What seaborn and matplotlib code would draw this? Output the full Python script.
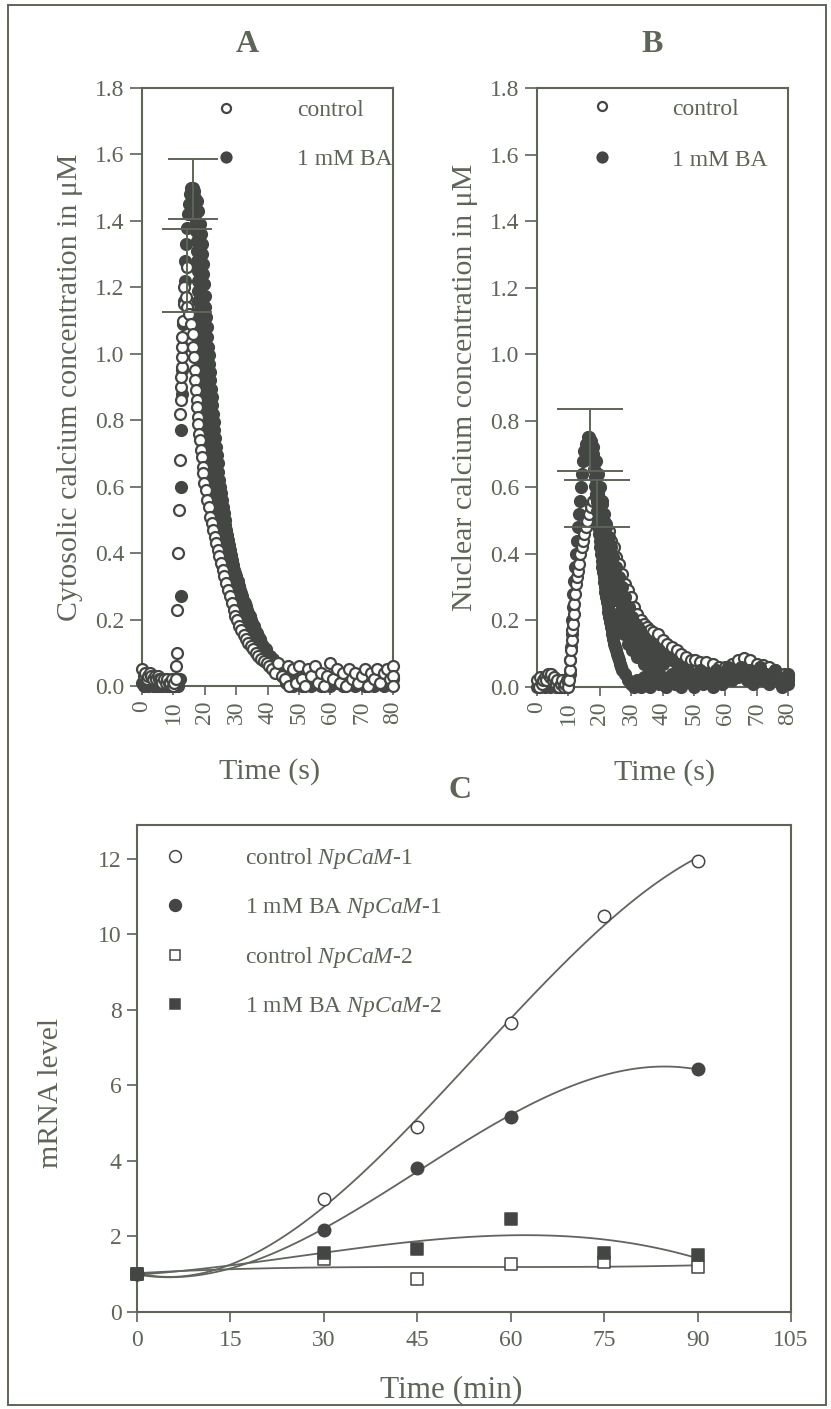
import matplotlib
matplotlib.use("Agg")
import numpy as np
import pandas as pd
import matplotlib.pyplot as plt
import seaborn as sns
from matplotlib.lines import Line2D
from matplotlib.patches import Rectangle

# ---------------------------------------------------------------- data
# Panel A: cytosolic free calcium (uM) against time (s), (time, value) pairs
cyt_control = [
    (0, 0.05), (0.5, 0.03), (1, 0.04), (1.5, 0.02), (2, 0.03), (2.5, 0.04), (3, 0.03),
    (3.5, 0.02), (4, 0.03), (4.5, 0.02), (5, 0.03), (5.5, 0.02), (6, 0.02), (6.5, 0.01),
    (7, 0.02), (7.5, 0.01), (8, 0.02), (8.5, 0.01), (9, 0.01), (9.5, 0.02), (10, 0.0),
    (10.3, 0.01), (10.8, 0.02), (10.9, 0.06), (11.0, 0.10), (11.1, 0.23), (11.4, 0.40),
    (11.7, 0.53), (12.0, 0.68), (12.2, 0.82), (12.3, 0.86), (12.4, 0.90), (12.5, 0.93),
    (12.6, 0.96), (12.7, 0.99), (12.8, 1.02), (12.9, 1.05), (13.1, 1.10), (13.3, 1.15),
    (13.4, 1.20), (14.5, 1.26), (13.9, 1.17), (14.5, 1.14), (14.9, 1.12), (15.5, 1.09),
    (16.1, 1.06), (16.4, 1.02), (16.6, 0.99), (16.8, 0.95), (17.0, 0.92), (17.2, 0.89),
    (17.4, 0.86), (17.6, 0.84), (17.8, 0.81), (18.0, 0.79), (18.2, 0.76), (18.4, 0.74),
    (18.7, 0.71), (19.0, 0.69), (19.3, 0.66), (19.6, 0.64), (19.9, 0.61), (20.3, 0.59),
    (20.7, 0.56), (21.2, 0.54), (21.7, 0.51), (22.2, 0.49), (22.7, 0.47), (23.2, 0.45),
    (23.7, 0.43), (24.2, 0.41), (24.7, 0.39), (25.2, 0.37), (25.7, 0.35), (26.2, 0.33),
    (26.8, 0.31), (27.4, 0.29), (28.0, 0.27), (28.6, 0.25), (29.2, 0.23), (29.8, 0.21),
    (30.4, 0.20), (31.0, 0.18), (31.7, 0.17), (32.4, 0.155), (33.1, 0.14), (33.8, 0.13),
    (34.6, 0.12), (35.4, 0.11), (36.2, 0.10), (37.0, 0.09), (37.9, 0.08), (38.8, 0.075),
    (39.7, 0.07), (40.6, 0.06), (41.5, 0.05), (42.5, 0.04), (43.5, 0.07), (44.5, 0.03),
    (45.5, 0.02), (46.5, 0.06), (47, 0.0), (48, 0.05), (49, 0.01), (50, 0.06), (51, 0.02),
    (52, 0.0), (53, 0.05), (54, 0.03), (55, 0.06), (56, 0.01), (57, 0.04), (58, 0.0),
    (59, 0.03), (60, 0.07), (61, 0.02), (62, 0.05), (63, 0.01), (64, 0.04), (65, 0.0),
    (66, 0.05), (67, 0.02), (68, 0.04), (69, 0.01), (70, 0.03), (71, 0.05), (72, 0.0),
    (73, 0.04), (74, 0.02), (75, 0.05), (76, 0.01), (77, 0.04), (78, 0.05), (79, 0.02),
    (80, 0.06), (80, 0.03), (80, 0.0),
]
cyt_ba = [
    (0, 0.01), (0.5, 0.0), (1, 0.02), (1.5, 0.01), (2, 0.0), (2.5, 0.01), (3, 0.02),
    (3.5, 0.0), (4, 0.01), (4.5, 0.0), (5, 0.01), (5.5, 0.0), (6, 0.02), (6.5, 0.0),
    (7, 0.01), (7.5, 0.0), (8, 0.01), (8.5, 0.0), (9, 0.01), (9.5, 0.0), (10, 0.01),
    (10.5, 0.0), (11, 0.01), (11.5, 0.0), (12, 0.02), (12.3, 0.27), (12.35, 0.60),
    (12.4, 0.77), (12.6, 0.88), (12.8, 0.95), (13.0, 1.02), (13.2, 1.09), (13.4, 1.16),
    (13.6, 1.22), (13.8, 1.28), (14.0, 1.33), (14.3, 1.38), (14.6, 1.42), (14.9, 1.45),
    (15.3, 1.48), (15.7, 1.50), (16.1, 1.50), (16.5, 1.49), (16.9, 1.47),
    (17.2, 1.40), (17.4, 1.34), (17.6, 1.28), (17.8, 1.22), (18.0, 1.16), (18.2, 1.10),
    (18.4, 1.04), (18.7, 0.98), (19.0, 0.92), (19.3, 0.86), (19.6, 0.81), (20.0, 0.76),
    (20.4, 0.71), (20.8, 0.66), (21.3, 0.62), (21.8, 0.58), (22.3, 0.54), (22.9, 0.50),
    (23.5, 0.47), (24.1, 0.44), (24.7, 0.41), (25.3, 0.38), (26.0, 0.35), (26.7, 0.32),
    (27.4, 0.30), (28.1, 0.28), (28.8, 0.26), (29.5, 0.24), (30.3, 0.22), (31.1, 0.20),
    (32.0, 0.18), (33.0, 0.16), (34.0, 0.14), (35.0, 0.12), (36.2, 0.11), (37.4, 0.09),
    (38.6, 0.08), (40.0, 0.07), (41.4, 0.06), (43.0, 0.04), (44.5, 0.03),
    (17.05, 1.435), (17.3, 1.37), (17.5, 1.31), (17.7, 1.25), (17.9, 1.19), (18.1, 1.13),
    (18.3, 1.07), (18.55, 1.01), (18.85, 0.95), (19.15, 0.89), (19.45, 0.835),
    (19.8, 0.785), (20.2, 0.735), (20.6, 0.685), (21.05, 0.64), (21.55, 0.60),
    (22.05, 0.56), (22.6, 0.52), (23.2, 0.485), (23.8, 0.455), (24.4, 0.425),
    (25.0, 0.395), (25.65, 0.365), (26.35, 0.335), (27.05, 0.31), (27.75, 0.29),
    (28.45, 0.27), (29.15, 0.25), (29.9, 0.23), (30.7, 0.21), (31.55, 0.19), (32.5, 0.17),
    (33.5, 0.15), (34.5, 0.13),
    (17.5, 1.46), (18.0, 1.43), (18.5, 1.39), (19.0, 1.33), (19.4, 1.27), (19.8, 1.21),
    (20.2, 1.14), (20.6, 1.08), (21.0, 1.02), (21.4, 0.97), (21.8, 0.92), (22.2, 0.87),
    (22.6, 0.82), (23.1, 0.77), (23.6, 0.72), (24.1, 0.67), (24.6, 0.62), (25.1, 0.58),
    (25.7, 0.54), (26.3, 0.50), (26.9, 0.47), (27.5, 0.44), (28.1, 0.41), (28.7, 0.38),
    (29.4, 0.35), (30.1, 0.33), (30.8, 0.30), (31.5, 0.28), (32.3, 0.26), (33.1, 0.24),
    (33.9, 0.22), (34.7, 0.20), (35.6, 0.18), (36.5, 0.16), (37.5, 0.14), (38.5, 0.12),
    (39.6, 0.11), (40.7, 0.09), (41.9, 0.08), (43.1, 0.07), (44.4, 0.05), (45.7, 0.04),
    (18.75, 1.36), (19.2, 1.30), (19.6, 1.24), (20.0, 1.175), (20.4, 1.11), (20.8, 1.05),
    (21.2, 0.995), (21.6, 0.945), (22.0, 0.895), (22.4, 0.845), (22.85, 0.795),
    (23.35, 0.745), (23.85, 0.695), (24.35, 0.645), (24.85, 0.60), (25.4, 0.56),
    (26.0, 0.52), (26.6, 0.485), (27.2, 0.455), (27.8, 0.425), (28.4, 0.395),
    (29.05, 0.365), (29.75, 0.34), (30.45, 0.315), (31.15, 0.29), (31.9, 0.27),
    (32.7, 0.25), (33.5, 0.23), (34.3, 0.21), (35.15, 0.19), (36.05, 0.17), (37.0, 0.15),
    (38.0, 0.13),
    (47, 0.03), (48.5, 0.02), (46, 0.01), (48, 0.0), (49, 0.01), (50, 0.03), (51, 0.0),
    (52, 0.02), (53, 0.01), (54, 0.0), (55, 0.03), (56, 0.02), (57, 0.0), (58, 0.01),
    (59, 0.03), (60, 0.0), (61, 0.02), (62, 0.01), (63, 0.03), (64, 0.0), (65, 0.02),
    (66, 0.01), (67, 0.03), (68, 0.0), (69, 0.02), (70, 0.01), (71, 0.0), (72, 0.03),
    (73, 0.01), (74, 0.0), (75, 0.02), (76, 0.03), (77, 0.0), (78, 0.02), (79, 0.01),
    (80, 0.02),
]
# peak mean and SD drawn as error bars (time, mean, sd)
cyt_peaks_t = [14.3, 16.2]
cyt_peaks_mean = [1.25, 1.495]
cyt_peaks_sd = [0.125, 0.09]

# Panel B: nuclear free calcium (uM) against time (s)
nuc_control = [
    (0, 0.02), (0.5, 0.0), (1, 0.03), (1.5, 0.01), (2, 0.02), (2.5, 0.03), (3, 0.02),
    (3.5, 0.04), (4, 0.03), (4.5, 0.04), (5, 0.02), (5.5, 0.03), (6, 0.01), (6.5, 0.02),
    (7, 0.0), (7.5, 0.01), (8, 0.02), (8.5, 0.0), (9, 0.01), (9.5, 0.02), (10, 0.0),
    (10.2, 0.02), (10.4, 0.05), (10.6, 0.08), (10.8, 0.11), (11.0, 0.14), (11.2, 0.17),
    (11.4, 0.19), (11.7, 0.22), (11.9, 0.25), (12.2, 0.28), (12.5, 0.31), (12.8, 0.33),
    (13.1, 0.35), (13.4, 0.37), (13.8, 0.40), (14.2, 0.42), (14.6, 0.44), (15.0, 0.46),
    (15.5, 0.48), (16.0, 0.50), (16.6, 0.52), (17.3, 0.54), (18.0, 0.56), (18.8, 0.57),
    (19.5, 0.56), (20.2, 0.54), (21.0, 0.52), (22.0, 0.49), (22.9, 0.47), (23.7, 0.44),
    (24.5, 0.42), (25.3, 0.39), (26.1, 0.37), (27.0, 0.34), (28.0, 0.31), (29.0, 0.29),
    (30.0, 0.27), (31.0, 0.24), (32.0, 0.22), (33.0, 0.20), (34.0, 0.19), (35.0, 0.18),
    (36.0, 0.17), (37.0, 0.165), (38.5, 0.16), (40.0, 0.14), (41.5, 0.13), (43.0, 0.12),
    (44.5, 0.11), (46.0, 0.10), (47.5, 0.09), (49.0, 0.08), (50.5, 0.08), (52.0, 0.075),
    (54.0, 0.075), (56.0, 0.07), (58.0, 0.06), (60.0, 0.06), (62.0, 0.07), (64.0, 0.08),
    (66.0, 0.087), (68.0, 0.08), (70.0, 0.07), (72.0, 0.066), (74.0, 0.06), (76.0, 0.05),
    (78.6, 0.04), (80.0, 0.03), (80.0, 0.02),
]
nuc_ba = [
    (0, 0.0), (0.5, 0.01), (1, 0.0), (1.5, 0.02), (2, 0.01), (2.5, 0.0), (3, 0.01),
    (3.5, 0.02), (4, 0.0), (4.5, 0.01), (5, 0.03), (5.5, 0.01), (6, 0.0), (6.5, 0.01),
    (7, 0.02), (7.5, 0.0), (8, 0.01), (8.5, 0.0), (9, 0.01), (9.5, 0.0), (10, 0.01),
    (10.4, 0.04), (10.6, 0.08), (10.8, 0.12), (11.0, 0.16), (11.2, 0.20), (11.4, 0.24),
    (11.6, 0.28), (11.9, 0.32), (12.2, 0.36), (12.5, 0.40), (12.8, 0.44), (13.1, 0.48),
    (13.4, 0.52), (13.7, 0.56), (14.0, 0.60), (14.3, 0.64), (14.7, 0.68), (15.1, 0.71),
    (15.6, 0.73), (16.1, 0.75), (16.6, 0.75), (17.1, 0.74),
    (17.5, 0.72), (18.0, 0.68), (18.4, 0.63), (18.8, 0.58), (19.2, 0.53), (19.6, 0.48),
    (20.0, 0.44), (20.4, 0.40), (20.8, 0.36), (21.2, 0.33), (21.6, 0.30), (22.0, 0.27),
    (22.5, 0.24), (23.0, 0.21), (23.5, 0.18), (24.0, 0.16), (24.6, 0.13), (25.2, 0.11),
    (25.8, 0.09), (26.5, 0.07), (27.2, 0.05), (28.0, 0.04), (29.0, 0.02), (30.0, 0.01),
    (17.75, 0.70), (18.2, 0.655), (18.6, 0.605), (19.0, 0.555), (19.4, 0.505),
    (19.8, 0.46), (20.2, 0.42), (20.6, 0.38), (21.0, 0.345), (21.4, 0.315), (21.8, 0.285),
    (22.25, 0.255), (22.75, 0.225), (23.25, 0.195), (23.75, 0.17), (24.3, 0.145),
    (24.9, 0.12), (25.5, 0.10), (26.15, 0.08), (26.85, 0.06),
    (18.9, 0.64), (19.6, 0.58), (20.3, 0.52), (21.0, 0.46), (21.8, 0.40), (22.6, 0.35),
    (23.5, 0.30), (24.4, 0.26), (25.5, 0.22), (26.5, 0.19), (27.7, 0.16), (29.0, 0.13),
    (30.4, 0.11), (32.0, 0.09), (34.0, 0.07), (36.0, 0.06), (38.0, 0.05),
    (20.0, 0.60), (20.7, 0.55), (21.4, 0.50), (22.1, 0.45), (22.9, 0.40), (23.8, 0.36),
    (24.8, 0.32), (25.9, 0.28), (27.0, 0.24), (28.2, 0.21), (29.4, 0.18), (30.8, 0.15),
    (32.4, 0.13), (34.2, 0.11), (36.0, 0.09), (38.0, 0.08), (40.0, 0.07),
    (18.0, 0.72), (18.7, 0.68), (19.3, 0.64), (19.9, 0.60), (20.6, 0.56), (21.3, 0.52),
    (22.0, 0.48), (22.8, 0.45), (23.5, 0.42), (24.3, 0.39), (25.1, 0.36), (26.0, 0.33),
    (27.0, 0.30), (28.0, 0.27), (29.2, 0.24), (30.4, 0.21), (31.6, 0.19), (32.8, 0.17),
    (34.0, 0.15), (35.2, 0.14), (36.4, 0.13), (37.6, 0.12), (38.8, 0.11), (40.0, 0.10),
    (41.5, 0.09), (43.0, 0.08), (44.5, 0.07), (46.0, 0.06), (48.0, 0.05),
    (31, 0.0), (32, 0.02), (33, 0.0), (34, 0.03), (35, 0.01), (36, 0.0), (37, 0.02),
    (38, 0.04), (39, 0.01), (40, 0.03), (41, 0.0), (42, 0.02), (43, 0.04), (44, 0.01),
    (45, 0.03), (46, 0.0), (47, 0.05), (48, 0.02), (49, 0.04), (50, 0.0), (51, 0.03),
    (52, 0.05), (53, 0.01), (54, 0.04), (55, 0.02), (56, 0.0), (57, 0.05), (58, 0.03),
    (59, 0.01), (60, 0.04), (61, 0.06), (62, 0.02), (63, 0.05), (64, 0.03), (65, 0.06),
    (66, 0.04), (67, 0.02), (68, 0.05), (69, 0.01), (70, 0.04), (71, 0.06), (72, 0.02),
    (73, 0.04), (74, 0.01), (75, 0.03), (76, 0.05), (77, 0.02), (78, 0.0), (79, 0.03),
    (80, 0.01), (80, 0.04),
]
nuc_peaks_t = [17.0, 19.1]
nuc_peaks_mean = [0.742, 0.551]
nuc_peaks_sd = [0.093, 0.071]

# Panel C: relative mRNA level against time (min)
mrna_time = [0, 30, 45, 60, 75, 90]
control_cam1 = [1.0, 2.98, 4.91, 7.66, 10.49, 11.95]
ba_cam1_time = [0, 30, 45, 60, 90]
ba_cam1 = [1.0, 2.16, 3.81, 5.17, 6.43]
control_cam2 = [1.0, 1.40, 0.87, 1.26, 1.32, 1.18]
ba_cam2 = [1.0, 1.57, 1.68, 2.47, 1.57, 1.52]

ca_yticks = [0.0, 0.2, 0.4, 0.6, 0.8, 1.0, 1.2, 1.4, 1.6, 1.8]
ca_xticks = [0, 10, 20, 30, 40, 50, 60, 70, 80]
mrna_yticks = [0, 2, 4, 6, 8, 10, 12]
mrna_xticks = [0, 15, 30, 45, 60, 75, 90, 105]

# ---------------------------------------------------------------- style
sns.set_style("white")
plt.rcParams.update({
    "font.family": ["Liberation Serif", "DejaVu Serif"],
    "mathtext.fontset": "custom",
    "mathtext.rm": "Liberation Serif",
    "mathtext.it": "Liberation Serif:italic",
})

INK = "#5d6458"      # axes, text
DARK = "#434643"     # markers
CURVE = "#60655d"    # fitted curves
W, H = 831, 1409

TICK_FS = 17
LABEL_FS = 21.5
LEG_FS = 17
MS = 62
MLW = 1.6

fig = plt.figure(figsize=(W / 100, H / 100), dpi=100)
fig.patch.set_facecolor("white")


def px_axes(left, top, right, bottom):
    return fig.add_axes([left / W, 1 - bottom / H, (right - left) / W, (bottom - top) / H])


def frame(ax, ylen, xlen):
    for s in ax.spines.values():
        s.set_visible(True)
        s.set_color(INK)
        s.set_linewidth(1.5)
    ax.tick_params(axis="y", which="both", direction="out", length=ylen, width=1.2,
                   color=INK, labelcolor=INK, labelsize=TICK_FS, pad=4,
                   left=True, right=False)
    ax.tick_params(axis="x", which="both", direction="out", length=xlen, width=1.2,
                   color=INK, labelcolor=INK, labelsize=TICK_FS, pad=4,
                   bottom=True, top=False)
    ax.set_facecolor("white")


def dots(ax, df, face, z):
    sns.scatterplot(data=df, x="t", y="v", ax=ax, marker="o", s=MS, color=face,
                    edgecolor=DARK, linewidth=MLW, clip_on=False, zorder=z, legend=False)


def calcium_panel(ax, ctrl, ba, pk_t, pk_m, pk_sd, capsize, ylabel, ba_decay_on_top):
    dc = pd.DataFrame(ctrl, columns=["t", "v"])
    db = pd.DataFrame(ba, columns=["t", "v"])
    if ba_decay_on_top:
        # the rising phase of the BA trace sits under the control circles,
        # its decay is stacked above them
        dots(ax, db[db.t <= 17.2], DARK, 3)
        dots(ax, dc, "white", 4)
        dots(ax, db[db.t > 17.2], DARK, 5)
    else:
        dots(ax, db, DARK, 3)
        dots(ax, dc, "white", 4)
    ax.errorbar(pk_t, pk_m, yerr=pk_sd, fmt="none", ecolor=INK, elinewidth=1.4,
                capsize=capsize, capthick=1.4, zorder=6, clip_on=False)
    ax.set_xlim(0, 80)
    ax.set_ylim(0, 1.8)
    ax.set_yticks(ca_yticks)
    ax.set_yticklabels([f"{v:.1f}" for v in ca_yticks])
    ax.set_xticks(ca_xticks)
    ax.set_xticklabels([str(v) for v in ca_xticks], rotation=90)
    frame(ax, 8.5, 6.5)
    ax.set_xlabel("Time (s)", fontsize=LABEL_FS, color=INK)
    ax.set_ylabel(ylabel, fontsize=LABEL_FS, color=INK)
    handles = [
        Line2D([], [], ls="", marker="o", ms=6.5, mfc="white", mec=DARK, mew=MLW),
        Line2D([], [], ls="", marker="o", ms=7.2, mfc=DARK, mec=DARK, mew=MLW),
    ]
    return handles


# ---------------------------------------------------------------- panel A
axA = px_axes(142, 88, 393, 686)
hA = calcium_panel(axA, cyt_control, cyt_ba, cyt_peaks_t, cyt_peaks_mean, cyt_peaks_sd,
                   18, "Cytosolic calcium concentration in \u03bcM", ba_decay_on_top=False)
axA.xaxis.set_label_coords(0.51, -0.12)
axA.yaxis.set_label_coords(-0.235, 0.5)
axA.legend(hA, ["control", "1 mM BA"], loc="upper left", bbox_to_anchor=(0.287, 0.98),
           frameon=False, fontsize=LEG_FS, handlelength=1.0, handletextpad=2.5,
           labelspacing=1.14, borderpad=0, borderaxespad=0, labelcolor=INK)

# ---------------------------------------------------------------- panel B
axB = px_axes(537, 88, 788, 687)
hB = calcium_panel(axB, nuc_control, nuc_ba, nuc_peaks_t, nuc_peaks_mean, nuc_peaks_sd,
                   24, "Nuclear calcium concentration in \u03bcM", ba_decay_on_top=True)
axB.xaxis.set_label_coords(0.51, -0.12)
axB.yaxis.set_label_coords(-0.235, 0.5)
axB.legend(hB, ["control", "1 mM BA"], loc="upper left", bbox_to_anchor=(0.21, 0.983),
           frameon=False, fontsize=LEG_FS, handlelength=1.0, handletextpad=2.5,
           labelspacing=1.25, borderpad=0, borderaxespad=0, labelcolor=INK)

# ---------------------------------------------------------------- panel C
axC = px_axes(137, 825, 791, 1312)
series = [
    (mrna_time, control_cam1, "o", "white", 80, r"control $\mathit{NpCaM}$-$\mathit{1}$"),
    (ba_cam1_time, ba_cam1, "o", DARK, 80, r"1 mM BA $\mathit{NpCaM}$-$\mathit{1}$"),
    (mrna_time, control_cam2, "s", "white", 64, r"control $\mathit{NpCaM}$-$\mathit{2}$"),
    (mrna_time, ba_cam2, "s", DARK, 64, r"1 mM BA $\mathit{NpCaM}$-$\mathit{2}$"),
]
handlesC, labelsC = [], []
for xs, ys, mk, fc, sz, lab in series:
    sns.regplot(x=np.array(xs, float), y=np.array(ys, float), ax=axC, order=3,
                ci=None, scatter=False, truncate=True,
                line_kws=dict(color=CURVE, lw=1.3, zorder=2))
    sns.scatterplot(x=xs, y=ys, ax=axC, marker=mk, s=sz, color=fc, edgecolor=DARK,
                    linewidth=1.1, zorder=4, clip_on=False, legend=False)
    handlesC.append(Line2D([], [], ls="", marker=mk, ms=np.sqrt(sz) * 0.95, mfc=fc,
                           mec=DARK, mew=1.1))
    labelsC.append(lab)
axC.set_xlim(0, 105)
axC.set_ylim(0, 12.9)
axC.set_xticks(mrna_xticks)
axC.set_yticks(mrna_yticks)
frame(axC, 7, 7)
axC.tick_params(axis="x", pad=6)
axC.set_xlabel("Time (min)", fontsize=LABEL_FS + 1, color=INK)
axC.set_ylabel("mRNA level", fontsize=LABEL_FS, color=INK)
axC.xaxis.set_label_coords(0.48, -0.13)
axC.yaxis.set_label_coords(-0.112, 0.45)
axC.legend(handlesC, labelsC, loc="upper left", bbox_to_anchor=(0.04, 0.956),
           frameon=False, fontsize=LEG_FS, handlelength=1.0, handletextpad=2.45,
           labelspacing=1.05, borderpad=0, borderaxespad=0, labelcolor=INK)

# ---------------------------------------------------------------- panel letters, border
for letter, x, y in [("A", 247, 45), ("B", 652, 45), ("C", 460, 790)]:
    fig.text(x / W, 1 - y / H, letter, fontsize=23, fontweight="bold", color=INK,
             ha="center", va="center")

fig.add_artist(Rectangle((8 / W, 1 - 1405 / H), (826 - 8) / W, (1405 - 5) / H,
                         transform=fig.transFigure, fill=False, ec=INK, lw=1.4))

fig.savefig("out.png", dpi=100, facecolor="white")
